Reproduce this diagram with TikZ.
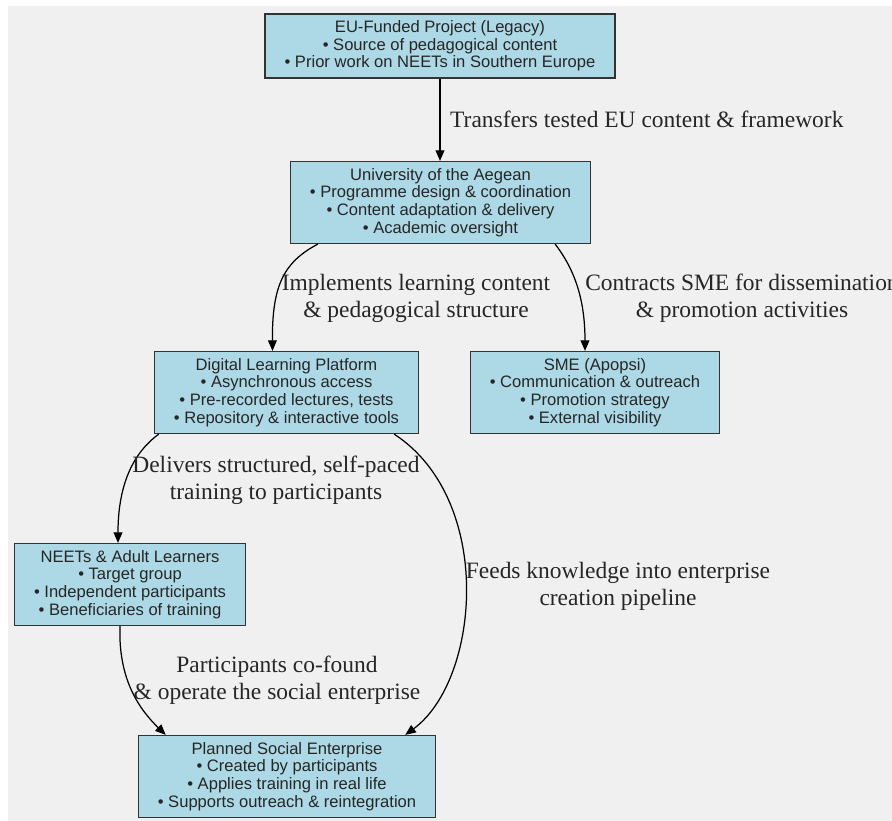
\documentclass[tikz,border=0pt]{standalone}
\usepackage{fontspec}
\setmainfont{Liberation Serif}
\newfontfamily\boxfont{Liberation Sans}
\usetikzlibrary{arrows.meta, calc}
\definecolor{bggray}{HTML}{F0F0F0}
\definecolor{boxblue}{HTML}{ADD8E6}
\definecolor{boxline}{HTML}{333333}

\begin{document}
\begin{tikzpicture}[x=0.567pt, y=-0.567pt,
    unit/.style={draw=boxline, fill=boxblue, line width=0.8pt, align=center, inner xsep=11pt, inner ysep=3.8pt,
        font=\boxfont\fontsize{9.4}{10}\selectfont, text=black!85},
    flow/.style={draw=black, line width=0.7pt, -{Triangle[length=6pt, width=5pt]}},
    note/.style={align=center, font=\fontsize{13.3}{15.3}\selectfont, text=black!85}]
    \useasboundingbox (0,0) rectangle (892,821);
    \fill[bggray] (8,6) rectangle (892,821);

    \node[unit] (eu) at (440, 46) {EU-Funded Project (Legacy)\\ \textbullet\ Source of pedagogical content\\ \textbullet\ Prior work on NEETs in Southern Europe};
    \node[unit] (univ) at (440.5, 202.5) {University of the Aegean\\ \textbullet\ Programme design \& coordination\\ \textbullet\ Content adaptation \& delivery\\ \textbullet\ Academic oversight};
    \node[unit] (digital) at (286.5, 392.5) {Digital Learning Platform\\ \textbullet\ Asynchronous access\\ \textbullet\ Pre-recorded lectures, tests\\ \textbullet\ Repository \& interactive tools};
    \node[unit] (sme) at (595, 392.5) {SME (Apopsi)\\ \textbullet\ Communication \& outreach\\ \textbullet\ Promotion strategy\\ \textbullet\ External visibility};
    \node[unit] (neets) at (130, 584.5) {NEETs \& Adult Learners\\ \textbullet\ Target group\\ \textbullet\ Independent participants\\ \textbullet\ Beneficiaries of training};
    \node[unit] (planned) at (287, 776.5) {Planned Social Enterprise\\ \textbullet\ Created by participants\\ \textbullet\ Applies training in real life\\ \textbullet\ Supports outreach \& reintegration};

    % connectors
    \draw[flow] (eu.south) -- (eu.south |- univ.north);
    \draw[flow] ($(univ.south west)+(28,0)$) .. controls (284,262) and (272,285) .. ($(digital.north)+(-14,0)$);
    \draw[flow] ($(univ.south east)+(-36,0)$) .. controls (575,270) and (585,300) .. ($(sme.north)+(-10,0)$);
    \draw[flow] ($(digital.south west)+(5,0)$) .. controls (130,455) and (118,490) .. ($(neets.north)+(-12,0)$);
    \draw[flow] ($(digital.south east)+(-25,0)$) .. controls (495,500) and (480,680) .. ($(planned.north east)+(-31,0)$);
    \draw[flow] ($(neets.south)+(-10,0)$) .. controls (118,680) and (140,710) .. ($(planned.north west)+(28,0)$);

    % labels
    \node[note, anchor=west] (ltransfer) at (444, 119) {Transfers tested EU content \& framework};
    \node[note] (limpl) at (416, 298) {Implements learning content\\ \& pedagogical structure};
    \node[note] (lcontract) at (742, 298) {Contracts SME for dissemination\\ \& promotion activities};
    \node[note] (ldeliver) at (276, 480) {Delivers structured, self-paced\\ training to participants};
    \node[note] (lfeed) at (618, 586) {Feeds knowledge into enterprise\\ creation pipeline};
    \node[note] (lcofound) at (277, 680) {Participants co-found\\ \& operate the social enterprise};
\end{tikzpicture}
\end{document}
